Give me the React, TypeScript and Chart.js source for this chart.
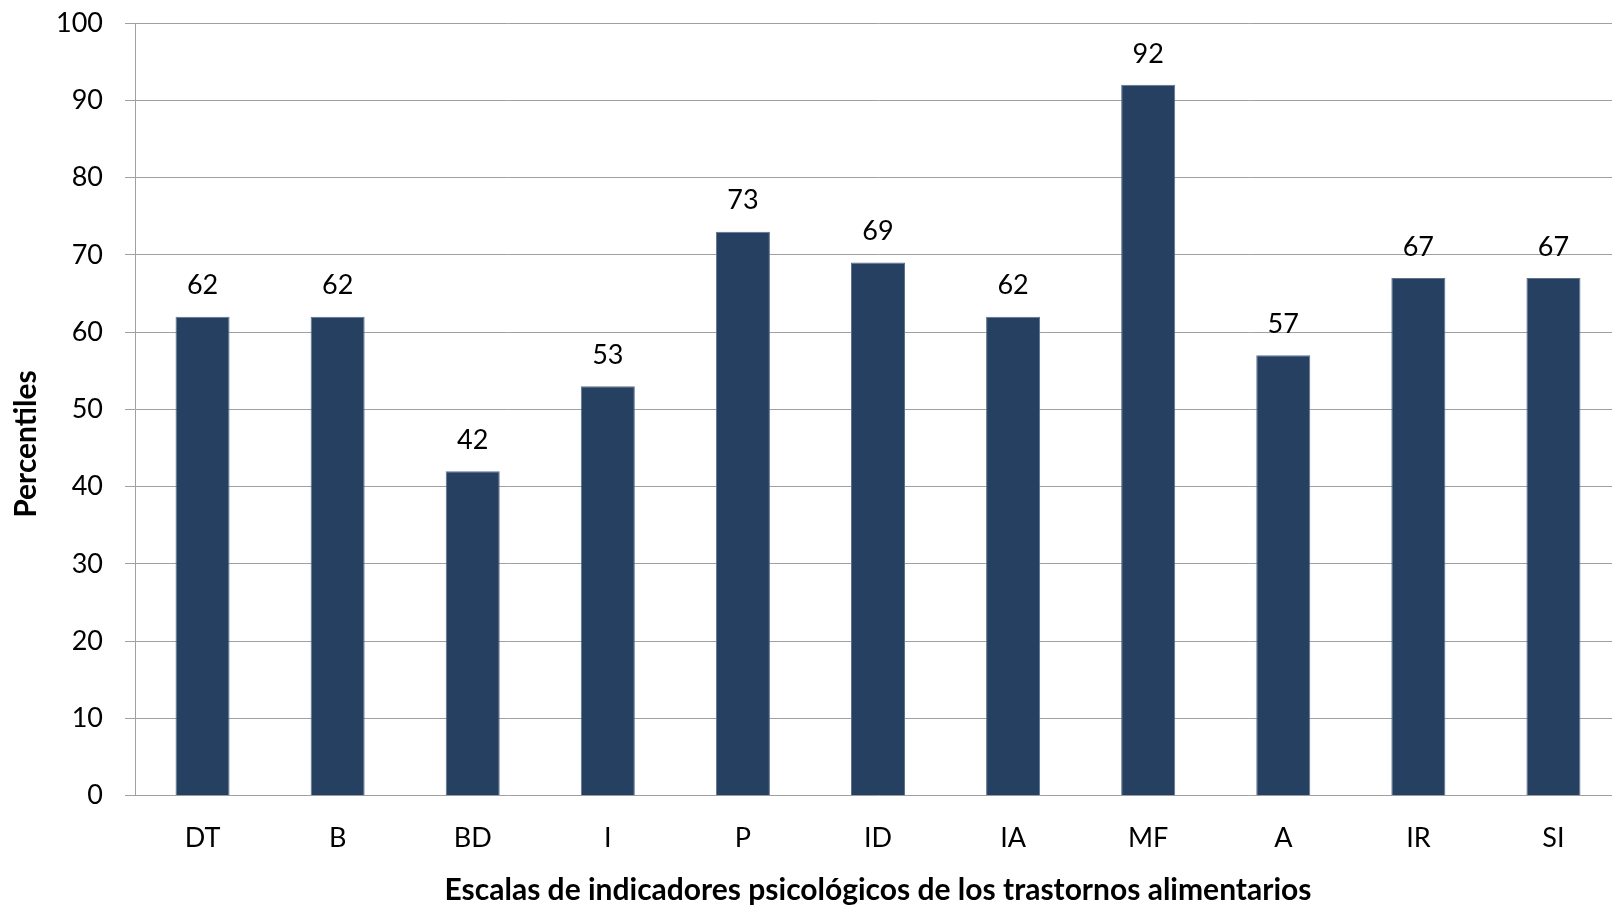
import React, { useEffect, useRef } from "react";
import { Chart, registerables } from "chart.js";

Chart.register(...registerables);

const categories = ["DT", "B", "BD", "I", "P", "ID", "IA", "MF", "A", "IR", "SI"];
const percentiles = [62, 62, 42, 53, 73, 69, 62, 92, 57, 67, 67];
const yTicks = [0, 10, 20, 30, 40, 50, 60, 70, 80, 90, 100];

const xTitle = "Escalas de indicadores psicológicos de los trastornos alimentarios";
const yTitle = "Percentiles";

const FONT = "Lato, 'Open Sans', sans-serif";
const BAR = "#264061";
const GRID = "#a0a0a0";

// Value printed above every bar, plus the rotated y-axis caption
const valueLabels = {
  id: "valueLabels",
  afterDatasetsDraw(chart: any) {
    const { ctx } = chart;
    const meta = chart.getDatasetMeta(0);
    const data = chart.data.datasets[0].data as number[];
    ctx.save();
    ctx.font = `27px ${FONT}`;
    ctx.fillStyle = "#000";
    ctx.textAlign = "center";
    ctx.textBaseline = "middle";
    meta.data.forEach((bar: any, i: number) => {
      ctx.fillText(String(Math.round(data[i])), bar.x, bar.y - 31);
    });
    ctx.restore();
  },
  afterDraw(chart: any) {
    const { ctx } = chart;
    ctx.save();
    ctx.translate(26, 444);
    ctx.rotate(-Math.PI / 2);
    ctx.font = `bold 30px ${FONT}`;
    ctx.fillStyle = "#000";
    ctx.textAlign = "center";
    ctx.textBaseline = "middle";
    ctx.fillText(yTitle, 0, 0);
    ctx.restore();
  },
};

export default function App() {
  const canvasRef = useRef<HTMLCanvasElement>(null);

  useEffect(() => {
    const canvas = canvasRef.current;
    if (!canvas) return;
    const chart = new Chart(canvas, {
      type: "bar",
      data: {
        labels: categories,
        datasets: [
          {
            data: percentiles,
            backgroundColor: BAR,
            borderColor: "#5d7190",
            borderWidth: 1,
            categoryPercentage: 1,
            barPercentage: 0.4,
          },
        ],
      },
      options: {
        responsive: false,
        animation: false,
        devicePixelRatio: 1,
        layout: { padding: { top: 23, left: 0, right: 0, bottom: 0 } },
        plugins: {
          legend: { display: false },
          tooltip: { enabled: false },
        },
        scales: {
          x: {
            grid: { display: false, drawTicks: false },
            border: { display: false },
            ticks: {
              color: "#000",
              padding: 26,
              font: { family: FONT, size: 27 },
            },
            title: {
              display: true,
              text: xTitle,
              color: "#000",
              font: { family: FONT, size: 30, weight: "bold" },
              padding: { top: 0, bottom: 0 },
            },
            afterFit(scale: any) {
              scale.height = 112.3;
              scale.paddingLeft = 0;
              scale.paddingRight = 0;
            },
          },
          y: {
            min: 0,
            max: 100,
            afterBuildTicks(scale: any) {
              scale.ticks = yTicks.map((v) => ({ value: v }));
            },
            grid: {
              color: GRID,
              lineWidth: 1,
              drawTicks: true,
              tickLength: 10,
            },
            border: { display: true, color: GRID, width: 1 },
            ticks: {
              color: "#000",
              padding: 22,
              font: { family: FONT, size: 27 },
            },
            afterFit(scale: any) {
              scale.width = 135;
              scale.paddingTop = 0;
              scale.paddingBottom = 0;
            },
          },
        },
      },
      plugins: [valueLabels],
    });
    return () => chart.destroy();
  }, []);

  return (
    <div
      style={{
        position: "fixed",
        left: 0,
        top: 0,
        width: 1612,
        height: 908,
        overflow: "hidden",
        background: "#fff",
      }}
    >
      <canvas ref={canvasRef} width={1621} height={908} style={{ display: "block" }} />
    </div>
  );
}
